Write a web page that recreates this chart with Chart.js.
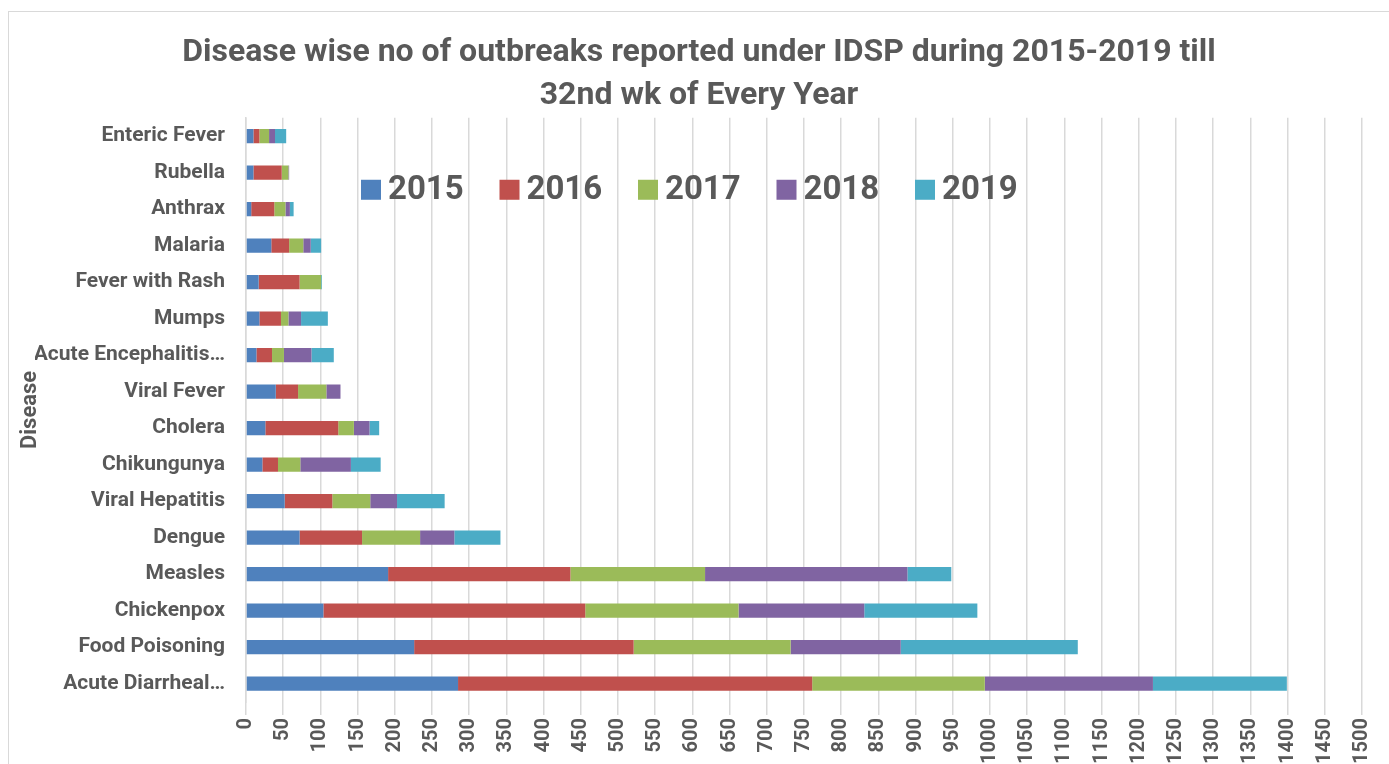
<!DOCTYPE html>
<html>
<head>
<meta charset="utf-8">
<script src="https://cdn.jsdelivr.net/npm/chart.js@4"></script>
<style>
  body { margin: 0; background: #fff; overflow: hidden; }
  #frame { position: absolute; left: 8px; top: 11px; width: 1400px; height: 800px; border: 1px solid #d9d9d9; overflow: hidden; }
  #wrap { position: absolute; left: 0; top: 0; width: 1380px; height: 790px; }
</style>
</head>
<body>
<div id="frame"><div id="wrap"><canvas id="chart"></canvas></div></div>
<script>
// --- Data ---
const diseases = ['Enteric Fever', 'Rubella', 'Anthrax', 'Malaria', 'Fever with Rash', 'Mumps',
    'Acute Encephalitis\u2026', 'Viral Fever', 'Cholera', 'Chikungunya', 'Viral Hepatitis', 'Dengue',
    'Measles', 'Chickenpox', 'Food Poisoning', 'Acute Diarrheal\u2026'];
const years = ['2015', '2016', '2017', '2018', '2019'];
const y2015 = [10, 10, 7, 34, 17, 18, 14, 40, 26, 22, 52, 72, 191, 104, 226, 285];
const y2016 = [8, 38, 31, 24, 55, 29, 21, 30, 98, 21, 64, 84, 245, 352, 295, 476];
const y2017 = [13, 9, 15, 19, 29, 10, 16, 38, 21, 30, 51, 78, 181, 206, 211, 232];
const y2018 = [8, 1, 6, 10, 0, 17, 37, 19, 21, 68, 36, 46, 272, 169, 148, 226];
const y2019 = [15, 0, 5, 14, 1, 36, 30, 0, 13, 40, 64, 62, 59, 152, 238, 180];
const xMin = 0, xMax = 1500, xStep = 50;

const colors = ['#4f81bd', '#c0504d', '#9bbb59', '#8064a2', '#4bacc6'];
const FONT = "Roboto, 'Liberation Sans', sans-serif";
const GREY = '#595959';

// legend drawn inside the plot area like the original
const innerLegend = {
    id: 'innerLegend',
    afterDraw(chart) {
        const ctx = chart.ctx, area = chart.chartArea;
        const x0 = area.left + 115, yc = area.top + 72;
        ctx.save();
        ctx.font = 'bold 33px ' + FONT;
        ctx.textBaseline = 'middle';
        chart.data.datasets.forEach((ds, i) => {
            const x = x0 + i * 138.5;
            ctx.fillStyle = ds.backgroundColor;
            ctx.fillRect(x, yc - 10, 20, 20);
            ctx.fillStyle = GREY;
            ctx.fillText(ds.label, x + 27, yc + 1);
        });
        ctx.restore();
    }
};

const series = [y2015, y2016, y2017, y2018, y2019];
new Chart(document.getElementById('chart'), {
    type: 'bar',
    data: {
        labels: diseases,
        datasets: years.map((y, i) => ({
            label: y, data: series[i], backgroundColor: colors[i],
            barPercentage: 0.39, categoryPercentage: 1
        }))
    },
    options: {
        indexAxis: 'y',
        responsive: true,
        maintainAspectRatio: false,
        animation: false,
        layout: { padding: { left: 26, right: 26, top: 0, bottom: 0 } },
        plugins: {
            legend: { display: false },
            tooltip: { enabled: false },
            title: {
                display: true,
                text: ['Disease wise no of outbreaks reported under IDSP during 2015-2019 till', '32nd wk of Every Year'],
                color: GREY,
                font: { family: FONT, size: 32, weight: 'bold', lineHeight: 1.34 },
                padding: { top: 20, bottom: 0 }
            }
        },
        scales: {
            x: {
                stacked: true, min: xMin, max: xMax,
                afterFit: s => { s.height = 100; },
                ticks: {
                    stepSize: xStep, autoSkip: false, minRotation: 90, maxRotation: 90, padding: 3,
                    color: GREY, font: { family: FONT, size: 20, weight: 'bold' },
                    callback: v => String(v)
                },
                grid: { color: '#d9d9d9', lineWidth: 1.5, drawTicks: true, tickLength: 13, tickColor: '#d9d9d9' },
                border: { display: false }
            },
            y: {
                stacked: true,
                afterFit: s => { s.width = 211; },
                ticks: { padding: 21, color: GREY, font: { family: FONT, size: 21, weight: 'bold' } },
                grid: { display: false, drawTicks: false },
                border: { color: '#d9d9d9', width: 1.5 },
                title: {
                    display: true, text: 'Disease', color: GREY,
                    font: { family: FONT, size: 22, weight: 'bold' }, padding: { top: -18 }
                }
            }
        }
    },
    plugins: [innerLegend]
});
</script>
</body>
</html>
